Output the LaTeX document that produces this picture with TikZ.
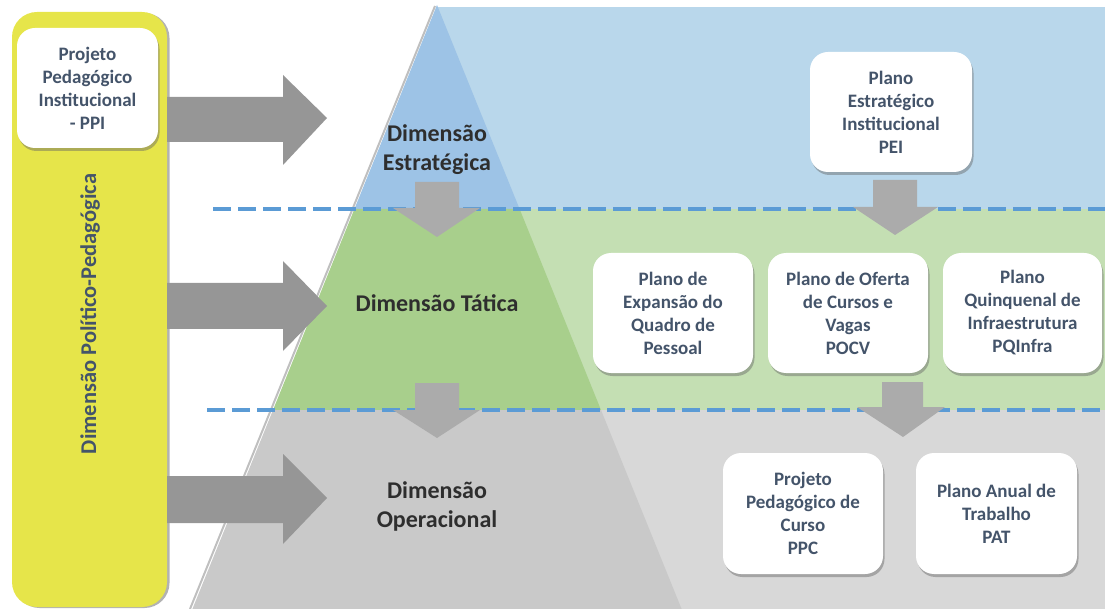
\documentclass[tikz,border=0pt]{standalone}
\usepackage{fontspec}
\setmainfont{Carlito}
\usetikzlibrary{shadows}
\definecolor{ylw}{HTML}{E6E54A}
\definecolor{bluedark}{HTML}{9DC3E6}
\definecolor{bluelight}{HTML}{B9D7EB}
\definecolor{greendark}{HTML}{A8CF8C}
\definecolor{greenlight}{HTML}{C4DFB3}
\definecolor{graydark}{HTML}{C9C9C9}
\definecolor{graylight}{HTML}{D8D8D8}
\definecolor{dashblue}{HTML}{5B9BD5}
\definecolor{boxtext}{HTML}{44546A}
\definecolor{dimtext}{HTML}{2E2E2E}
\definecolor{sidegray}{HTML}{969696}
\definecolor{downgray}{HTML}{ABABAB}
\tikzset{
  planbox/.style={draw=none, fill=white, rounded corners=18pt, align=center,
    font=\bfseries\fontsize{19}{23}\selectfont, text=boxtext,
    drop shadow={shadow xshift=1.5pt, shadow yshift=-3pt, opacity=0.45, fill=black!60}},
  dimlabel/.style={align=center, font=\bfseries\fontsize{24}{29}\selectfont, text=dimtext},
  sidearrow/.style={fill=sidegray},
  downarrow/.style={fill=downgray},
  sepline/.style={draw=dashblue, line width=4.5pt, dash pattern=on 18pt off 7pt}
}
\begin{document}
\begin{tikzpicture}[x=1pt, y=-1pt]
\useasboundingbox (0,0) rectangle (1105,609);
% background bands
\fill[bluelight] (437,7) rectangle (1105,209);
\fill[greenlight] (500,209) rectangle (1105,410);
\fill[graylight] (560,410) rectangle (1105,609);
% pyramid shadow
\draw[black!25, line width=2pt] (435,6) -- (190,609);
% pyramid layers
\fill[bluedark] (437,5) -- (519.6,209) -- (354.4,209) -- cycle;
\fill[greendark] (354.4,209) -- (519.6,209) -- (601,410) -- (273,410) -- cycle;
\fill[graydark] (273,410) -- (601,410) -- (681.6,609) -- (192.4,609) -- cycle;
% dashed separators
\draw[sepline] (213,209) -- (1105,209);
\draw[sepline] (207,410) -- (1105,410);
% left yellow column
\node[fill=ylw, rounded corners=25pt, minimum width=155pt, minimum height=595pt,
  drop shadow={shadow xshift=2.5pt, shadow yshift=-1pt, opacity=0.5, fill=black!60},
  inner sep=0pt] (col) at (89.5,309.5) {};
\node[rotate=90, font=\bfseries\fontsize{22.5}{27}\selectfont, text=boxtext] (polped) at (90,314) {Dimensão Político-Pedagógica};
\node[planbox, minimum width=141pt, minimum height=120pt] (ppi) at (87.5,88)
  {Projeto\\Pedagógico\\Institucional\\- PPI};
% side arrows
\fill[sidearrow] (167,97) -- (283,97) -- (283,75) -- (327,118) -- (283,165) -- (283,142) -- (167,142) -- cycle;
\fill[sidearrow] (167,283) -- (283,283) -- (283,261) -- (327,306) -- (283,351) -- (283,329) -- (167,329) -- cycle;
\fill[sidearrow] (167,476) -- (283,476) -- (283,454) -- (327,498) -- (283,544) -- (283,523) -- (167,523) -- cycle;
% down arrows
\fill[downarrow] (415,182) -- (459,182) -- (459,208) -- (480,208) -- (437,237) -- (393,208) -- (415,208) -- cycle;
\fill[downarrow] (415,383) -- (459,383) -- (459,410) -- (480,410) -- (437,438) -- (393,410) -- (415,410) -- cycle;
\fill[downarrow] (873,180) -- (917,180) -- (917,207) -- (938,207) -- (895,235) -- (853,207) -- (873,207) -- cycle;
\fill[downarrow] (882,382) -- (923,382) -- (923,407) -- (945,407) -- (903,437) -- (857,407) -- (882,407) -- cycle;
% dimension labels
\node[dimlabel] (estr) at (437,150) {Dimensão\\Estratégica};
\node[dimlabel] (tat) at (437,303) {Dimensão Tática};
\node[dimlabel] (oper) at (437,506) {Dimensão\\Operacional};
% plan boxes
\node[planbox, minimum width=162pt, minimum height=120pt] (pei) at (891,112)
  {Plano\\Estratégico\\Institucional\\PEI};
\node[planbox, minimum width=160pt, minimum height=120pt] (peqp) at (673,313)
  {Plano de\\Expansão do\\Quadro de\\Pessoal};
\node[planbox, minimum width=160pt, minimum height=120pt] (pocv) at (848,313)
  {Plano de Oferta\\de Cursos e\\Vagas\\POCV};
\node[planbox, minimum width=159pt, minimum height=120pt] (pqinfra) at (1022.5,313)
  {Plano\\Quinquenal de\\Infraestrutura\\PQInfra};
\node[planbox, minimum width=160pt, minimum height=121pt] (ppc) at (803,513.5)
  {Projeto\\Pedagógico de\\Curso\\PPC};
\node[planbox, minimum width=161pt, minimum height=121pt] (pat) at (996.5,513.5)
  {Plano Anual de\\Trabalho\\PAT};
\end{tikzpicture}
\end{document}
